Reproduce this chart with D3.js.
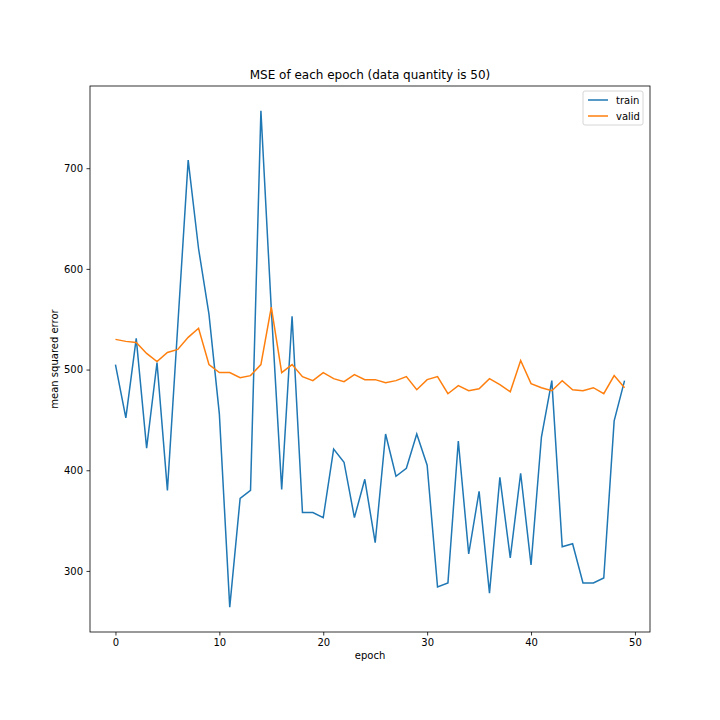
<!DOCTYPE html>
<html>
<head>
    <meta charset="utf-8">
    <title>MSE of each epoch</title>
    <script src="https://d3js.org/d3.v7.min.js"></script>
    <style type="text/css">
        body { margin: 0; background: white; }
        text { font-family: "DejaVu Sans", sans-serif; fill: black; }
        .line { fill: none; stroke-width: 1.5; }
    </style>
</head>
<body>
    <script type="text/javascript">
        // values
        let trainMse = [505, 452, 531, 422, 507, 380, 544, 708, 620, 555,
                        456, 264, 372, 380, 757, 560, 381, 553, 358, 358,
                        353, 421, 408, 353, 391, 328, 436, 394, 402, 436,
                        405, 284, 288, 429, 317, 379, 278, 393, 313, 397,
                        306, 433, 489, 324, 327, 288, 288, 293, 449, 489];
        let validMse = [530, 528, 527, 516, 508, 517, 520, 532, 541, 505,
                        497, 497, 492, 494, 505, 562, 497, 505, 493, 489,
                        497, 491, 488, 495, 490, 490, 487, 489, 493, 480,
                        490, 493, 476, 484, 479, 481, 491, 485, 478, 509,
                        486, 482, 479, 489, 480, 479, 482, 476, 494, 482];
        let xTicks = [0, 10, 20, 30, 40, 50];
        let yTicks = [300, 400, 500, 600, 700];
        let seriesNames = ["train", "valid"];
        let seriesColors = ["#1f77b4", "#ff7f0e"];

        let width = 720, height = 720;
        let plotLeft = 90, plotRight = 650, plotTop = 86, plotBottom = 632;

        let svg = d3.select("body").append("svg")
            .attr("width", width)
            .attr("height", height);

        let epochs = d3.range(trainMse.length);
        let allVals = trainMse.concat(validMse);
        let yMin = d3.min(allVals), yMax = d3.max(allVals);
        let yPad = (yMax - yMin) * 0.05;
        let xPad = (epochs.length - 1) * 0.05;

        let x = d3.scaleLinear()
            .domain([-xPad, epochs.length - 1 + xPad])
            .range([plotLeft, plotRight]);
        let y = d3.scaleLinear()
            .domain([yMin - yPad, yMax + yPad])
            .range([plotBottom, plotTop]);

        let line = d3.line()
            .x((d, i) => x(i))
            .y(d => y(d));

        let plot = svg.append("g");
        [trainMse, validMse].forEach((s, k) => {
            plot.append("path")
                .attr("class", "line")
                .attr("d", line(s))
                .style("stroke", seriesColors[k]);
        });

        // axes
        let xAxis = d3.axisBottom(x).tickValues(xTicks).tickSize(3.5).tickPadding(3.5);
        let yAxis = d3.axisLeft(y).tickValues(yTicks).tickSize(3.5).tickPadding(3.5);

        let gx = svg.append("g")
            .attr("transform", "translate(0," + plotBottom + ")")
            .call(xAxis);
        let gy = svg.append("g")
            .attr("transform", "translate(" + plotLeft + ",0)")
            .call(yAxis);
        [gx, gy].forEach(g => {
            g.select(".domain").remove();
            g.selectAll("text").style("font-size", "10px").style("font-family", "DejaVu Sans");
            g.selectAll("line").style("stroke", "black").style("stroke-width", 0.8);
        });

        //draw outline of box around plot
        svg.append("rect")
            .attr("x", plotLeft)
            .attr("y", plotTop)
            .attr("width", plotRight - plotLeft)
            .attr("height", plotBottom - plotTop)
            .style("stroke", "black")
            .style("fill", "none")
            .style("stroke-width", 0.8);

        svg.append("text")
            .attr("x", (plotLeft + plotRight) / 2)
            .attr("y", plotTop - 7)
            .attr("text-anchor", "middle")
            .style("font-size", "12px")
            .text("MSE of each epoch (data quantity is 50)");

        svg.append("text")
            .attr("x", (plotLeft + plotRight) / 2)
            .attr("y", plotBottom + 27)
            .attr("text-anchor", "middle")
            .style("font-size", "10px")
            .text("epoch");

        svg.append("text")
            .attr("transform", "translate(" + 58 + "," + ((plotTop + plotBottom) / 2) + ") rotate(-90)")
            .attr("text-anchor", "middle")
            .style("font-size", "10px")
            .text("mean squared error");

        // legend
        let lg = svg.append("g").attr("transform", "translate(583,91)");
        lg.append("rect")
            .attr("width", 60).attr("height", 34)
            .attr("rx", 2)
            .style("fill", "white").style("fill-opacity", 0.8)
            .style("stroke", "#cccccc").style("stroke-width", 0.8);
        seriesNames.forEach((name, k) => {
            lg.append("line")
                .attr("x1", 5).attr("x2", 25)
                .attr("y1", 9 + k * 16).attr("y2", 9 + k * 16)
                .style("stroke", seriesColors[k]).style("stroke-width", 1.5);
            lg.append("text")
                .attr("x", 33).attr("y", 12.5 + k * 16)
                .style("font-size", "10px")
                .text(name);
        });
    </script>
</body>
</html>
